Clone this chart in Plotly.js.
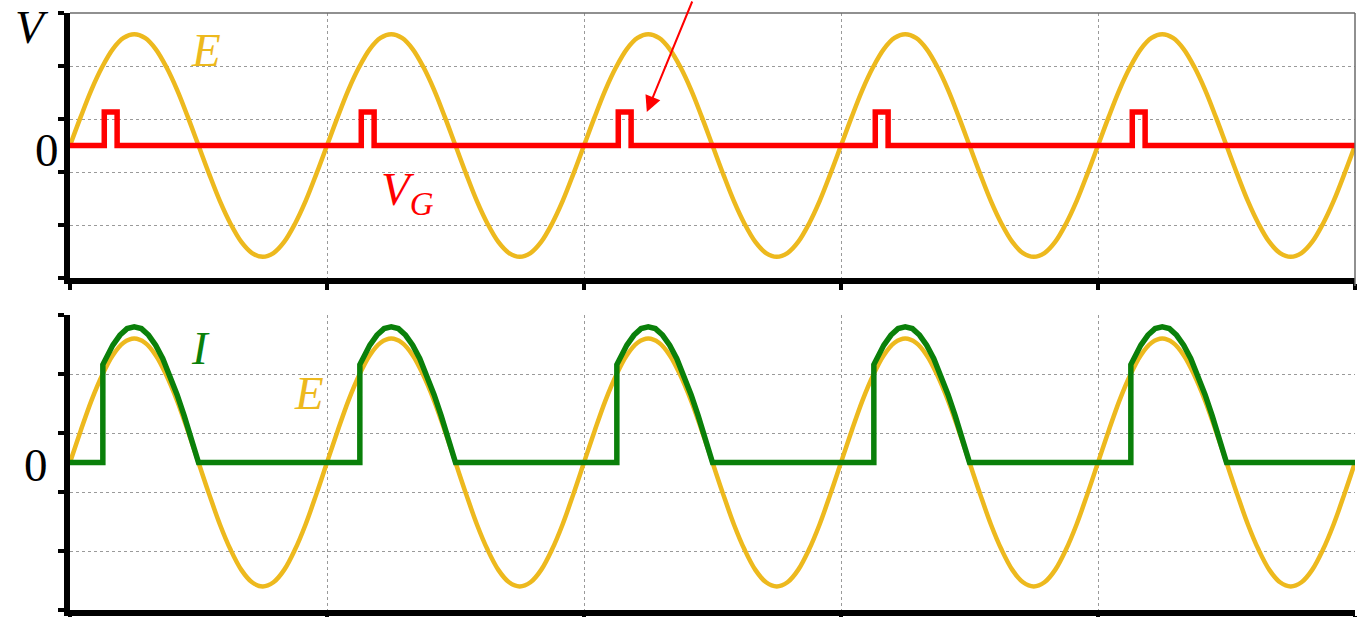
<!DOCTYPE html>
<html>
<head>
<meta charset="utf-8">
<script src="https://cdn.plot.ly/plotly-3.0.1.min.js"></script>
<style>
  html, body { margin: 0; padding: 0; background: #ffffff; }
  #chart { width: 1366px; height: 617px; }
</style>
</head>
<body>
<div id="chart"></div>
<script>
// ---- Data (one period, angle in degrees) ----
const periods = 5;
const periodDeg = 360;

// Source voltage E (one period, 15-degree samples)
const eAngle = [0, 15, 30, 45, 60, 75, 90, 105, 120, 135, 150, 165, 180,
                195, 210, 225, 240, 255, 270, 285, 300, 315, 330, 345, 360];
const eValue = [0, 0.54, 1.05, 1.48, 1.82, 2.03, 2.1, 2.03, 1.82, 1.48, 1.05, 0.54, 0,
                -0.54, -1.05, -1.48, -1.82, -2.03, -2.1, -2.03, -1.82, -1.48, -1.05, -0.54, 0];

// Gate pulse V_G (one period)
const vgAngle = [0, 48, 48, 66, 66, 360];
const vgValue = [0, 0, 0.63, 0.63, 0, 0];

// Current I (one period): conducts from firing angle to 180 deg
const iAngle = [0, 46, 46, 50, 60, 70, 80, 90, 100, 110, 120, 130, 140, 150, 160, 170, 180, 360];
const iValue = [0, 0, 1.66, 1.76, 1.99, 2.16, 2.27, 2.3, 2.27, 2.16, 1.99, 1.76, 1.48, 1.15, 0.79, 0.40, 0, 0];

// Axis ticks
const xTicks = [0, 360, 720, 1080, 1440, 1800];
const yTicks = [-2.5, -1.5, -0.5, 0.5, 1.5, 2.5];

// ---- Build repeated waveforms ----
function tile(ang, val) {
  const xs = [], ys = [];
  for (let k = 0; k < periods; k++) {
    for (let j = 0; j < ang.length; j++) {
      if (k > 0 && j === 0) continue;
      xs.push(ang[j] + k * periodDeg);
      ys.push(val[j]);
    }
  }
  return {x: xs, y: ys};
}
const E = tile(eAngle, eValue);
const VG = tile(vgAngle, vgValue);
const I = tile(iAngle, iValue);

const gold = '#EDB91E';
const red = '#FF0000';
const green = '#0A800A';

const traces = [
  {x: E.x, y: E.y, xaxis: 'x', yaxis: 'y', mode: 'lines',
   line: {color: gold, width: 4.5, shape: 'spline', smoothing: 1}, hoverinfo: 'skip'},
  {x: VG.x, y: VG.y, xaxis: 'x', yaxis: 'y', mode: 'lines',
   line: {color: red, width: 5.5}, hoverinfo: 'skip'},
  {x: E.x, y: E.y, xaxis: 'x2', yaxis: 'y2', mode: 'lines',
   line: {color: gold, width: 4.5, shape: 'spline', smoothing: 1}, hoverinfo: 'skip'},
  {x: I.x, y: I.y, xaxis: 'x2', yaxis: 'y2', mode: 'lines',
   line: {color: green, width: 5.5}, hoverinfo: 'skip'}
];

function xAx(anchor) {
  return {
    anchor: anchor, domain: [0, 1], range: [0, 1800],
    tickvals: xTicks, showticklabels: false,
    ticks: 'outside', ticklen: 6, tickwidth: 4, tickcolor: '#000',
    showline: true, linecolor: '#000', linewidth: 6, mirror: false,
    showgrid: true, gridcolor: '#9a9a9a', gridwidth: 1, griddash: 'dot',
    zeroline: false, fixedrange: true
  };
}
function yAx(anchor, dom) {
  return {
    anchor: anchor, domain: dom, range: [-2.5, 2.5],
    tickvals: yTicks, showticklabels: false,
    ticks: 'outside', ticklen: 6, tickwidth: 4, tickcolor: '#000',
    showline: true, linecolor: '#000', linewidth: 6, mirror: false,
    showgrid: true, gridcolor: '#9a9a9a', gridwidth: 1, griddash: 'dot',
    zeroline: false, fixedrange: true
  };
}

const serif = 'Liberation Serif, DejaVu Serif, serif';

const layout = {
  width: 1366, height: 617,
  paper_bgcolor: '#ffffff', plot_bgcolor: '#ffffff',
  showlegend: false,
  margin: {l: 70, r: 11, t: 13, b: 7},
  xaxis: xAx('y'),
  yaxis: yAx('x', [0.5561, 1]),
  xaxis2: xAx('y2'),
  yaxis2: yAx('x2', [0, 0.4941]),
  shapes: [
    {type: 'line', xref: 'x domain', yref: 'y domain', x0: 0, x1: 1, y0: 1, y1: 1,
     line: {color: '#6b6b6b', width: 1.5}},
    {type: 'line', xref: 'x domain', yref: 'y domain', x0: 1, x1: 1, y0: -0.03, y1: 1,
     line: {color: '#6b6b6b', width: 1.5}}
  ],
  annotations: [
    {xref: 'paper', yref: 'paper', x: -0.0295, y: 0.976, xanchor: 'center', yanchor: 'middle',
     text: '<i>V</i>', showarrow: false, font: {family: serif, size: 47, color: '#000'}},
    {xref: 'paper', yref: 'paper', x: -0.0180, y: 0.770, xanchor: 'center', yanchor: 'middle',
     text: '0', showarrow: false, font: {family: serif, size: 47, color: '#000'}},
    {xref: 'paper', yref: 'paper', x: 0.1058, y: 0.938, xanchor: 'center', yanchor: 'middle',
     text: '<i>E</i>', showarrow: false, font: {family: serif, size: 47, color: gold}},
    {xref: 'paper', yref: 'paper', x: 0.2625, y: 0.700, xanchor: 'center', yanchor: 'middle',
     text: '<i>V<sub>G</sub></i>', showarrow: false, font: {family: serif, size: 47, color: red}},
    {xref: 'paper', yref: 'paper', x: 0.1018, y: 0.439, xanchor: 'center', yanchor: 'middle',
     text: '<i>I</i>', showarrow: false, font: {family: serif, size: 47, color: green}},
    {xref: 'paper', yref: 'paper', x: 0.1860, y: 0.3635, xanchor: 'center', yanchor: 'middle',
     text: '<i>E</i>', showarrow: false, font: {family: serif, size: 47, color: gold}},
    {xref: 'paper', yref: 'paper', x: -0.0265, y: 0.243, xanchor: 'center', yanchor: 'middle',
     text: '0', showarrow: false, font: {family: serif, size: 47, color: '#000'}},
    {xref: 'x', yref: 'y', x: 808, y: 0.632, text: '', showarrow: true,
     ax: 46, ay: -118, arrowcolor: red, arrowwidth: 2, arrowhead: 2, arrowsize: 1.6, standoff: 0}
  ]
};

Plotly.newPlot('chart', traces, layout, {staticPlot: true, displayModeBar: false});
</script>
</body>
</html>
